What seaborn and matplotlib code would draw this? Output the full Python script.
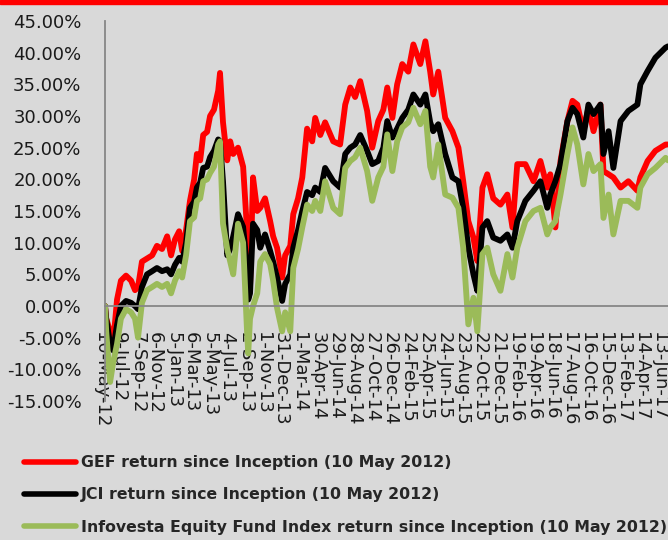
import pandas as pd
import matplotlib
matplotlib.use('Agg')
import matplotlib.pyplot as plt
import matplotlib.dates as mdates
from matplotlib.lines import Line2D
from matplotlib.patches import Rectangle
from matplotlib.ticker import FixedLocator, FuncFormatter
from matplotlib.transforms import ScaledTranslation
import seaborn as sns

# Returns since inception (10 May 2012), in percent
inception = '2012-05-10'
days = [0, 4, 17, 27, 40, 53, 70, 87, 100, 110, 123, 140, 157, 173, 190, 207, 220, 233,
        247, 257, 270, 283, 297, 306, 317, 327, 340, 350, 363, 377, 383, 393, 407, 417,
        427, 443, 460, 473, 477, 483, 493, 507, 517, 533, 550, 560, 573, 590, 600, 617,
        627, 643, 657, 673, 690, 700, 717, 733, 760, 783, 800, 817, 833, 850, 873, 890,
        910, 927, 940, 957, 973, 990, 1010, 1027, 1050, 1067, 1083, 1093, 1110, 1133,
        1157, 1177, 1193, 1210, 1227, 1240, 1257, 1273, 1293, 1317, 1340, 1357, 1373,
        1400, 1427, 1450, 1473, 1483, 1500, 1517, 1540, 1557, 1573, 1593, 1610, 1627,
        1650, 1660, 1677, 1693, 1717, 1743, 1773, 1783, 1807, 1833, 1867, 1875]
gef = [0, -2, -4, -6, 1, 4, 4.8, 4, 2.5, 3, 7, 7.5, 8, 9.5, 9, 11, 8, 10.5,
       11.8, 8.7, 12, 16.6, 20, 24, 23, 27, 27.5, 30, 31, 34, 36.8, 29, 23, 26,
       24, 25, 22, 12, 4, 3, 20.3, 15, 15.5, 17, 13.4, 11, 9.2, 4.5, 8, 9.5,
       14.5, 17, 20.3, 28, 26, 29.7, 27, 29, 26, 25.5, 31.8, 34.5, 33, 35.5, 30.8, 25,
       29.2, 31, 34.5, 29.7, 35, 38.2, 37, 41.3, 38.2, 41.8, 37, 33.4, 37, 29.7,
       27.6, 25, 19.7, 13.4, 10.8, 7.1, 18.7, 20.8, 17, 16, 17.6, 12.4, 22.4,
       22.4, 19.7, 22.9, 18.7, 20.8, 12.4, 22.9, 29.2, 32.4, 31.8, 27.6, 31.3, 27.6,
       31.8, 21.3, 20.8, 20.3, 18.7, 19.7, 18.2, 20.3, 22.9, 24.5, 25.5, 25.5]
jci = [0, -2, -6, -7, -3, 0, 0.8, 0.5, 0, -0.5, 3, 5, 5.5, 6, 5.5, 5.8, 5, 6.5,
       7.6, 7, 10, 15.5, 16.5, 18.7, 19.5, 21.8, 22, 23.5, 24.5, 26.3, 26, 19.7, 8, 9,
       11, 14.5, 12.5, 6, 1, 2, 13, 12, 9.2, 11.3, 8.7, 7, 4.5, 0.8, 3.5, 5,
       9.2, 12, 15, 18, 17.5, 18.7, 18, 21.8, 19.7, 18.7, 24, 25, 25.5, 27, 24.5, 22.4,
       22.9, 25, 29.2, 26.6, 28, 29.7, 31, 33.4, 31.8, 33.4, 29, 27.6, 28.7, 24,
       20.3, 19.7, 15.5, 9.2, 5, 2.4, 12.4, 13.4, 10.8, 10.3, 11.3, 9.2, 13.4,
       16.6, 18.2, 19.7, 15.5, 17.6, 19.7, 22.4, 29.2, 31.3, 30.3, 26.6, 31.8, 30.3,
       31.8, 24, 27.6, 21.8, 29.2, 30.8, 31.8, 35, 37.1, 39.2, 40.8, 41]
infovesta = [0, -4, -12, -9, -6, -2, -0.5, -1, -2, -5, 0.5, 2.5, 3, 3.5, 3, 3.5, 2, 4,
             5.5, 4.5, 8, 13.4, 14, 16.6, 17, 19.7, 20, 21, 22, 25.5, 26, 13, 9, 7,
             5, 13, 10, -4, -7.5, -2, 0, 2, 7, 8.2, 6.6, 4, -0.3, -4, -1, -4,
             6, 9, 12.4, 16, 15, 16.6, 15, 19.7, 15.5, 14.5, 21.8, 22.9, 23.5, 25, 21.3, 16.6,
             20.3, 22, 27.1, 21.3, 26, 28.2, 29, 31.3, 28.7, 30.8, 22, 20.3, 25.5, 17.6,
             17.1, 15.5, 9.2, -2.9, 1.3, -4, 8.2, 9.2, 5, 2.4, 8.2, 4.5, 9.2,
             13.4, 15, 15.5, 11.3, 12.4, 13.4, 17.6, 24, 28.2, 25.5, 19.2, 24, 21.3,
             22.4, 13.9, 17.6, 11.3, 16.6, 16.6, 15.5, 18.7, 20.8, 21.8, 23.4, 23]

series_names = ['GEF return since Inception (10 May 2012)',
                'JCI return since Inception (10 May 2012)',
                'Infovesta Equity Fund Index return since Inception (10 May 2012)']
colors = ['#FF0000', '#000000', '#9BBB59']

tick_labels = ['10-May-12', '9-Jul-12', '7-Sep-12', '6-Nov-12', '5-Jan-13', '6-Mar-13',
               '5-May-13', '4-Jul-13', '2-Sep-13', '1-Nov-13', '31-Dec-13', '1-Mar-14',
               '30-Apr-14', '29-Jun-14', '28-Aug-14', '27-Oct-14', '26-Dec-14', '24-Feb-15',
               '25-Apr-15', '24-Jun-15', '23-Aug-15', '22-Oct-15', '21-Dec-15', '19-Feb-16',
               '19-Apr-16', '18-Jun-16', '17-Aug-16', '16-Oct-16', '15-Dec-16', '13-Feb-17',
               '14-Apr-17', '13-Jun-17']
y_ticks = [-15, -10, -5, 0, 5, 10, 15, 20, 25, 30, 35, 40, 45]

# build long-form table for seaborn
dates = pd.Timestamp(inception) + pd.to_timedelta(days, unit='D')
df = pd.DataFrame({'Date': dates,
                   series_names[0]: gef,
                   series_names[1]: jci,
                   series_names[2]: infovesta})
df = df.melt(id_vars='Date', var_name='Series', value_name='Return')

sns.set_style('white')
plt.rcParams['font.family'] = ['DejaVu Sans']

bg = '#D9D9D9'
axis_grey = '#868686'
fig = plt.figure(figsize=(6.68, 5.40), dpi=100, facecolor=bg)
ax = fig.add_axes([105 / 668, 139 / 540, 1 - 105 / 668, 380 / 540])
ax.set_facecolor(bg)

sns.lineplot(data=df, x='Date', y='Return', hue='Series', hue_order=series_names,
             palette=dict(zip(series_names, colors)), linewidth=4.2, estimator=None,
             legend=False, ax=ax)

# spines first (moving a spine resets the ticks)
for side in ['top', 'right']:
    ax.spines[side].set_visible(False)
for side in ['left', 'bottom']:
    ax.spines[side].set_color(axis_grey)
    ax.spines[side].set_linewidth(1.3)
ax.spines['bottom'].set_position(('data', 0))

# axes
ax.set_xlim(pd.Timestamp(inception), pd.Timestamp(inception) + pd.Timedelta(days=1875))
ax.set_ylim(-15, 45)
ax.set_xlabel('')
ax.set_ylabel('')

ax.set_yticks(y_ticks)
ax.yaxis.set_major_formatter(FuncFormatter(lambda v, p: f'{v:.2f}%'))

tick_dates = pd.to_datetime(tick_labels, format='%d-%b-%y')
ax.set_xticks(tick_dates)
ax.set_xticklabels(tick_labels, rotation=270, rotation_mode='anchor', ha='left', va='center')
minor_dates = pd.date_range(inception, periods=95, freq='20D')
ax.xaxis.set_minor_locator(FixedLocator(mdates.date2num(minor_dates)))

ax.tick_params(axis='both', which='both', direction='out', length=4.5, width=1.3,
               color=axis_grey, labelsize=13, labelcolor='#1a1a1a', pad=14)
ax.tick_params(axis='y', pad=12.5)

shift = ScaledTranslation(-4 / 100, 0, fig.dpi_scale_trans)
for lbl in ax.get_xticklabels():
    lbl.set_transform(lbl.get_transform() + shift)

# red band at the top edge
fig.patches.append(Rectangle((0, 1 - 4 / 540), 1, 4 / 540, transform=fig.transFigure,
                             color='#FF0000', zorder=5))

# legend below the chart
handles = [Line2D([], [], color=c, lw=4) for c in colors]
fig.legend(handles, series_names, loc='upper left', bbox_to_anchor=(24 / 668, 1 - 455 / 540),
           frameon=False, borderpad=0, borderaxespad=0, handlelength=3.3, handletextpad=0.35,
           labelspacing=1.1,
           prop={'family': ['DejaVu Sans'], 'weight': 'bold', 'size': 11.3})

fig.savefig('out.png', dpi=100, facecolor=fig.get_facecolor())
